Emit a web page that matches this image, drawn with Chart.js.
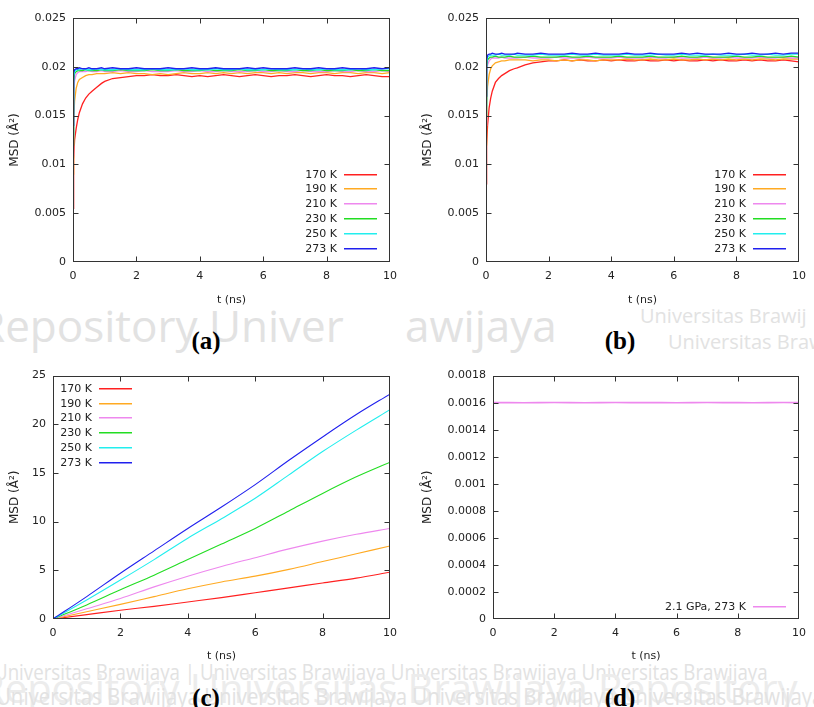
<!DOCTYPE html>
<html>
<head>
<meta charset="utf-8">
<script src="https://cdn.jsdelivr.net/npm/chart.js@4.4.1/dist/chart.umd.min.js"></script>
<style>
  body { margin: 0; background: #fff; }
  #page { position: relative; width: 814px; height: 707px; overflow: hidden; background: #fff; }
  .wm { position: absolute; white-space: nowrap; color: #e2e2e2; font-family: "Open Sans", sans-serif; line-height: 1; }
  canvas { position: absolute; background: #fff; }
  .lbl { position: absolute; transform: translate(-50%, -50%); font-family: "Liberation Serif", serif; font-weight: bold; font-size: 25px; line-height: 1; color: #000; }
</style>
</head>
<body>
<div id="page">
  <!-- watermark behind the panels -->
  <div class="wm" style="left:-22px; top:303px; font-size:44px;">Repository Univer</div>
  <div class="wm" style="left:405px; top:303px; font-size:44px;">awijaya</div>
  <div class="wm" style="left:640px; top:306px; font-size:20px;">Universitas Brawij</div>
  <div class="wm" style="left:668px; top:332px; font-size:20px;">Universitas Brawij</div>
  <div class="wm" style="left:-6px; top:660px; font-size:22px; transform:scaleX(0.85); transform-origin:left;">Universitas Brawijaya | Universitas Brawijaya  Universitas Brawijaya  Universitas Brawijaya</div>
  <div class="wm" style="left:-20px; top:668px; font-size:40px; color:#ececec;">Repository Universitas Brawijaya Repository</div>
  <div class="wm" style="left:-4px; top:684px; font-size:24px; transform:scaleX(0.85); transform-origin:left;">Universitas Brawijaya   Universitas Brawijaya   Universitas Brawijaya   Universitas Brawijaya</div>

  <canvas id="chartA" width="402" height="309" style="left:3px; top:0px;"></canvas>
  <canvas id="chartB" width="400" height="309" style="left:414px; top:0px;"></canvas>
  <canvas id="chartC" width="402" height="301" style="left:3px; top:362px;"></canvas>
  <canvas id="chartD" width="400" height="301" style="left:414px; top:362px;"></canvas>

  <div class="lbl" style="left:206px; top:340px;">(a)</div>
  <div class="lbl" style="left:620px; top:340px;">(b)</div>
  <div class="lbl" style="left:206px; top:697px;">(c)</div>
  <div class="lbl" style="left:620px; top:697px;">(d)</div>
</div>
<script>
// nhãn và màu các đường
const seriesLabels = ['170 K', '190 K', '210 K', '230 K', '250 K', '273 K'];
const seriesColors = ['#ff2020', '#ffaa22', '#ee88ee', '#22dd22', '#22eeee', '#2020ee'];

// trục thời gian (ns)
const timeAB = [0, 0.02, 0.05, 0.1, 0.15, 0.2, 0.3, 0.4, 0.5, 0.6, 0.75, 0.9,
  1, 1.25, 1.5, 1.75, 2, 2.25, 2.5, 2.75, 3, 3.25, 3.5, 3.75, 4,
  4.25, 4.5, 4.75, 5, 5.25, 5.5, 5.75, 6, 6.25, 6.5, 6.75, 7,
  7.25, 7.5, 7.75, 8, 8.25, 8.5, 8.75, 9, 9.25, 9.5, 9.75, 10];
const timeC = [0, 1, 2, 3, 4, 5, 6, 7, 8, 9, 10];
const timeD = [0, 0.5, 1, 1.5, 2, 2.5, 3, 3.5, 4, 4.5, 5, 5.5, 6, 6.5, 7, 7.5, 8, 8.5, 9, 9.5, 10];

// (a)
const msdA170 = [0.0055, 0.0105, 0.0125, 0.0137, 0.0146, 0.0153, 0.0162, 0.0168, 0.0172, 0.0175, 0.0179, 0.0183,
  0.0185, 0.0188, 0.0189, 0.0190, 0.0191, 0.0191, 0.0192, 0.0191, 0.0191, 0.0192, 0.0191, 0.0190, 0.0191,
  0.0190, 0.0191, 0.0192, 0.0191, 0.0190, 0.0191, 0.0192, 0.0191, 0.0190, 0.0191, 0.0191, 0.0192,
  0.0191, 0.0190, 0.0191, 0.0192, 0.0191, 0.0191, 0.0190, 0.0191, 0.0192, 0.0191, 0.0190, 0.0190];
const msdA190 = [0.0090, 0.0145, 0.0165, 0.0178, 0.0184, 0.0187, 0.0189, 0.0191, 0.0192, 0.0192, 0.0193, 0.0193,
  0.0193, 0.0194, 0.0193, 0.0194, 0.0193, 0.0193, 0.0192, 0.0193, 0.0192, 0.0193, 0.0194, 0.0193, 0.0193,
  0.0194, 0.0193, 0.0194, 0.0193, 0.0194, 0.0193, 0.0194, 0.0194, 0.0193, 0.0194, 0.0193, 0.0194,
  0.0194, 0.0193, 0.0194, 0.0194, 0.0193, 0.0194, 0.0194, 0.0193, 0.0194, 0.0194, 0.0193, 0.0194];
const msdA210 = [0.0110, 0.0172, 0.0186, 0.0192, 0.0194, 0.0195, 0.0195, 0.0195, 0.0196, 0.0195, 0.0195, 0.0196,
  0.0195, 0.0195, 0.0196, 0.0195, 0.0195, 0.0196, 0.0195, 0.0195, 0.0195, 0.0196, 0.0195, 0.0195, 0.0196,
  0.0195, 0.0195, 0.0196, 0.0195, 0.0195, 0.0195, 0.0196, 0.0195, 0.0195, 0.0196, 0.0195, 0.0195,
  0.0196, 0.0195, 0.0195, 0.0195, 0.0196, 0.0195, 0.0195, 0.0196, 0.0195, 0.0195, 0.0196, 0.0195];
const msdA230 = [0.0120, 0.0185, 0.0193, 0.0195, 0.0196, 0.0196, 0.0196, 0.0197, 0.0196, 0.0196, 0.0196, 0.0197,
  0.0196, 0.0196, 0.0197, 0.0196, 0.0196, 0.0196, 0.0197, 0.0196, 0.0196, 0.0197, 0.0196, 0.0196, 0.0196,
  0.0197, 0.0196, 0.0196, 0.0196, 0.0197, 0.0196, 0.0196, 0.0197, 0.0196, 0.0196, 0.0196, 0.0197,
  0.0196, 0.0196, 0.0197, 0.0196, 0.0196, 0.0196, 0.0197, 0.0196, 0.0196, 0.0197, 0.0196, 0.0196];
const msdA250 = [0.0130, 0.0190, 0.0195, 0.0197, 0.0197, 0.0197, 0.0198, 0.0197, 0.0197, 0.0197, 0.0198, 0.0197,
  0.0197, 0.0197, 0.0198, 0.0197, 0.0197, 0.0197, 0.0198, 0.0197, 0.0197, 0.0197, 0.0198, 0.0197, 0.0197,
  0.0197, 0.0198, 0.0197, 0.0197, 0.0198, 0.0197, 0.0197, 0.0197, 0.0198, 0.0197, 0.0197, 0.0197,
  0.0198, 0.0197, 0.0197, 0.0198, 0.0197, 0.0197, 0.0197, 0.0198, 0.0197, 0.0197, 0.0198, 0.0198];
const msdA273 = [0.0140, 0.0194, 0.0197, 0.0198, 0.0198, 0.0199, 0.0198, 0.0198, 0.0199, 0.0198, 0.0198, 0.0199,
  0.0198, 0.0199, 0.0198, 0.0198, 0.0199, 0.0198, 0.0198, 0.0198, 0.0199, 0.0198, 0.0198, 0.0199, 0.0198,
  0.0198, 0.0199, 0.0198, 0.0198, 0.0198, 0.0199, 0.0198, 0.0199, 0.0198, 0.0198, 0.0198, 0.0199,
  0.0198, 0.0198, 0.0199, 0.0198, 0.0198, 0.0199, 0.0198, 0.0198, 0.0198, 0.0199, 0.0198, 0.0199];

// (b)
const msdB170 = [0.0080, 0.0120, 0.0140, 0.0158, 0.0168, 0.0175, 0.0184, 0.0188, 0.0191, 0.0193, 0.0196, 0.0198,
  0.0199, 0.0202, 0.0204, 0.0205, 0.0206, 0.0206, 0.0207, 0.0206, 0.0207, 0.0206, 0.0206, 0.0207, 0.0206,
  0.0207, 0.0206, 0.0206, 0.0207, 0.0206, 0.0206, 0.0207, 0.0206, 0.0207, 0.0206, 0.0206, 0.0207,
  0.0206, 0.0207, 0.0206, 0.0206, 0.0207, 0.0206, 0.0207, 0.0206, 0.0206, 0.0207, 0.0206, 0.0205];
const msdB190 = [0.0120, 0.0160, 0.0180, 0.0192, 0.0198, 0.0201, 0.0204, 0.0205, 0.0206, 0.0206, 0.0207, 0.0207,
  0.0207, 0.0207, 0.0206, 0.0207, 0.0207, 0.0206, 0.0207, 0.0206, 0.0207, 0.0207, 0.0206, 0.0207, 0.0207,
  0.0207, 0.0208, 0.0207, 0.0207, 0.0208, 0.0207, 0.0207, 0.0208, 0.0207, 0.0207, 0.0208, 0.0207,
  0.0208, 0.0207, 0.0208, 0.0207, 0.0208, 0.0207, 0.0208, 0.0208, 0.0207, 0.0208, 0.0208, 0.0208];
const msdB210 = [0.0140, 0.0190, 0.0202, 0.0206, 0.0208, 0.0209, 0.0209, 0.0209, 0.0210, 0.0209, 0.0209, 0.0209,
  0.0209, 0.0210, 0.0209, 0.0209, 0.0209, 0.0210, 0.0209, 0.0209, 0.0209, 0.0210, 0.0209, 0.0209, 0.0209,
  0.0210, 0.0209, 0.0209, 0.0209, 0.0210, 0.0209, 0.0209, 0.0210, 0.0209, 0.0209, 0.0209, 0.0210,
  0.0209, 0.0209, 0.0210, 0.0209, 0.0209, 0.0209, 0.0210, 0.0209, 0.0209, 0.0210, 0.0209, 0.0209];
const msdB230 = [0.0150, 0.0200, 0.0207, 0.0209, 0.0210, 0.0210, 0.0211, 0.0210, 0.0210, 0.0210, 0.0211, 0.0210,
  0.0210, 0.0210, 0.0211, 0.0210, 0.0210, 0.0210, 0.0211, 0.0210, 0.0210, 0.0211, 0.0210, 0.0210, 0.0210,
  0.0211, 0.0210, 0.0210, 0.0210, 0.0211, 0.0210, 0.0210, 0.0210, 0.0211, 0.0210, 0.0210, 0.0211,
  0.0210, 0.0210, 0.0210, 0.0211, 0.0210, 0.0210, 0.0211, 0.0210, 0.0210, 0.0210, 0.0211, 0.0210];
const msdB250 = [0.0160, 0.0204, 0.0210, 0.0211, 0.0212, 0.0212, 0.0212, 0.0213, 0.0212, 0.0212, 0.0212, 0.0213,
  0.0212, 0.0212, 0.0212, 0.0213, 0.0212, 0.0212, 0.0212, 0.0213, 0.0212, 0.0212, 0.0213, 0.0212, 0.0212,
  0.0212, 0.0213, 0.0212, 0.0212, 0.0212, 0.0213, 0.0212, 0.0212, 0.0213, 0.0212, 0.0212, 0.0212,
  0.0213, 0.0212, 0.0212, 0.0212, 0.0213, 0.0212, 0.0212, 0.0213, 0.0212, 0.0212, 0.0213, 0.0213];
const msdB273 = [0.0170, 0.0207, 0.0212, 0.0213, 0.0213, 0.0214, 0.0213, 0.0213, 0.0214, 0.0213, 0.0213, 0.0213,
  0.0214, 0.0213, 0.0213, 0.0214, 0.0213, 0.0213, 0.0213, 0.0214, 0.0213, 0.0213, 0.0214, 0.0213, 0.0213,
  0.0213, 0.0214, 0.0213, 0.0213, 0.0214, 0.0213, 0.0213, 0.0213, 0.0214, 0.0213, 0.0214, 0.0213,
  0.0213, 0.0213, 0.0214, 0.0213, 0.0213, 0.0214, 0.0213, 0.0213, 0.0214, 0.0213, 0.0214, 0.0214];

// (c)
const msdC170 = [0, 0.45, 0.9, 1.3, 1.75, 2.2, 2.7, 3.2, 3.7, 4.2, 4.8];
const msdC190 = [0, 0.75, 1.5, 2.3, 3.1, 3.8, 4.4, 5.1, 5.9, 6.7, 7.5];
const msdC210 = [0, 1.05, 2.1, 3.3, 4.4, 5.4, 6.3, 7.2, 8.0, 8.7, 9.3];
const msdC230 = [0, 1.45, 3.0, 4.5, 6.1, 7.7, 9.3, 11.1, 12.9, 14.6, 16.1];
const msdC250 = [0, 1.95, 4.0, 6.1, 8.3, 10.3, 12.4, 14.8, 17.2, 19.4, 21.5];
const msdC273 = [0, 2.3, 4.7, 7.0, 9.3, 11.5, 13.8, 16.3, 18.7, 21.0, 23.1];

// (d)
const labelD = '2.1 GPa, 273 K';
const colorD = '#ee88ee';
const msdD = [0.001600, 0.001601, 0.001599, 0.001600, 0.001601, 0.001600, 0.001599, 0.001600, 0.001601, 0.001600, 0.001600,
  0.001601, 0.001599, 0.001600, 0.001601, 0.001600, 0.001600, 0.001599, 0.001600, 0.001601, 0.001600];

// vạch chia trục
const xTicks = [0, 2, 4, 6, 8, 10];
const yTicksAB = [0, 0.005, 0.01, 0.015, 0.02, 0.025];
const yTicksC = [0, 5, 10, 15, 20, 25];
const yTicksD = [0, 0.0002, 0.0004, 0.0006, 0.0008, 0.001, 0.0012, 0.0014, 0.0016, 0.0018];

const FONT = { family: "'DejaVu Sans', sans-serif", size: 11 };
const YTITLE_FONT = { family: "'DejaVu Sans', sans-serif", size: 12 };
const TEXT = '#222';

// khung và vạch chia hướng vào trong như gnuplot
const gnuFrame = {
    id: 'gnuFrame',
    afterDatasetsDraw(chart) {
        const { ctx, chartArea: a, scales: { x, y } } = chart;
        const L = Math.round(a.left) + 0.5, R = Math.round(a.right) - 0.5;
        const T = Math.round(a.top) + 0.5, B = Math.round(a.bottom) - 0.5;
        ctx.save();
        ctx.strokeStyle = '#333';
        ctx.lineWidth = 1;
        ctx.beginPath();
        x.ticks.forEach(t => {
            const px = Math.round(x.getPixelForValue(t.value)) + 0.5;
            if (px <= L + 1 || px >= R - 1) return;
            ctx.moveTo(px, B); ctx.lineTo(px, B - 5);
            ctx.moveTo(px, T); ctx.lineTo(px, T + 5);
        });
        y.ticks.forEach(t => {
            const py = Math.round(y.getPixelForValue(t.value)) + 0.5;
            if (py <= T + 1 || py >= B - 1) return;
            ctx.moveTo(L, py); ctx.lineTo(L + 5, py);
            ctx.moveTo(R, py); ctx.lineTo(R - 5, py);
        });
        ctx.stroke();
        ctx.strokeRect(L, T, R - L, B - T);
        ctx.restore();
    }
};

// chú thích kiểu gnuplot: chữ căn phải, đoạn mẫu bên phải
const gnuKey = {
    id: 'gnuKey',
    afterDraw(chart, args, opts) {
        const { ctx, chartArea: a } = chart;
        const sets = chart.data.datasets;
        const rowH = 14.9, lineLen = 33, gap = 7;
        let lineEnd, y0;
        if (opts.corner === 'tl') {
            lineEnd = a.left + opts.dx;
            y0 = a.top + opts.dy;
        } else {
            lineEnd = a.right - opts.dx;
            y0 = a.bottom - opts.dy - (sets.length - 1) * rowH;
        }
        ctx.save();
        ctx.font = FONT.size + 'px ' + FONT.family;
        ctx.textAlign = 'right';
        ctx.textBaseline = 'middle';
        for (let i = 0; i < sets.length; i++) {
            const yy = Math.round(y0 + i * rowH);
            ctx.fillStyle = TEXT;
            ctx.fillText(sets[i].label, lineEnd - lineLen - gap, yy);
            ctx.fillStyle = opts.colors[i];
            ctx.fillRect(lineEnd - lineLen, yy - 1, lineLen, 1.5);
        }
        ctx.restore();
    }
};

function buildSets(times, seriesList, labels, colors, width, smooth) {
    return seriesList.map((vals, i) => ({
        label: labels[i],
        data: times.map((t, k) => ({ x: t, y: vals[k] })),
        borderColor: colors[i],
        borderWidth: width,
        pointRadius: 0,
        fill: false,
        cubicInterpolationMode: smooth ? 'monotone' : 'default',
        tension: 0,
        order: seriesList.length - i
    }));
}

function fmt(v) {
    return String(+Number(v).toFixed(5));
}

function makeChart(id, p) {
    const ctx = document.getElementById(id).getContext('2d');
    return new Chart(ctx, {
        type: 'line',
        data: { datasets: p.datasets },
        options: {
            responsive: false,
            animation: false,
            devicePixelRatio: 1,
            layout: { padding: { left: 0, top: p.padTop, right: p.padRight, bottom: 0 } },
            plugins: {
                legend: { display: false },
                tooltip: { enabled: false },
                gnuKey: p.key
            },
            scales: {
                x: {
                    type: 'linear',
                    min: 0,
                    max: 10,
                    afterBuildTicks: s => { s.ticks = xTicks.map(v => ({ value: v })); },
                    afterFit: s => { s.height = p.xHeight; },
                    grid: { display: false, drawTicks: false },
                    border: { display: false },
                    ticks: { font: FONT, color: TEXT, padding: 8, maxRotation: 0, callback: v => fmt(v) },
                    title: { display: true, text: 't (ns)', font: FONT, color: TEXT, padding: { top: 0, bottom: p.xTitlePad } }
                },
                y: {
                    type: 'linear',
                    min: p.yTicks[0],
                    max: p.yTicks[p.yTicks.length - 1],
                    afterBuildTicks: s => { s.ticks = p.yTicks.map(v => ({ value: v })); },
                    afterFit: s => { s.width = p.yWidth; },
                    grid: { display: false, drawTicks: false },
                    border: { display: false },
                    ticks: { font: FONT, color: TEXT, padding: 7, callback: v => fmt(v) },
                    title: { display: true, text: 'MSD (Å²)', font: YTITLE_FONT, color: TEXT, padding: { top: p.yTitlePad, bottom: 0 } }
                }
            }
        },
        plugins: [gnuFrame, gnuKey]
    });
}

makeChart('chartA', {
    datasets: buildSets(timeAB, [msdA170, msdA190, msdA210, msdA230, msdA250, msdA273], seriesLabels, seriesColors, 1.3, false),
    yTicks: yTicksAB, padTop: 18, padRight: 14, yWidth: 70, xHeight: 47, xTitlePad: 2, yTitlePad: 5,
    key: { corner: 'br', dx: 13, dy: 13, colors: seriesColors }
});

makeChart('chartB', {
    datasets: buildSets(timeAB, [msdB170, msdB190, msdB210, msdB230, msdB250, msdB273], seriesLabels, seriesColors, 1.3, false),
    yTicks: yTicksAB, padTop: 18, padRight: 9, yWidth: 72, xHeight: 47, xTitlePad: 2, yTitlePad: 7,
    key: { corner: 'br', dx: 13, dy: 13, colors: seriesColors }
});

makeChart('chartC', {
    datasets: buildSets(timeC, [msdC170, msdC190, msdC210, msdC230, msdC250, msdC273], seriesLabels, seriesColors, 1.1, true),
    yTicks: yTicksC, padTop: 13, padRight: 14, yWidth: 50, xHeight: 44, xTitlePad: 0, yTitlePad: 5,
    key: { corner: 'tl', dx: 79, dy: 13, colors: seriesColors }
});

makeChart('chartD', {
    datasets: buildSets(timeD, [msdD], [labelD], [colorD], 1.6, false),
    yTicks: yTicksD, padTop: 13, padRight: 9, yWidth: 79, xHeight: 44, xTitlePad: 0, yTitlePad: 7,
    key: { corner: 'br', dx: 13, dy: 12, colors: [colorD] }
});
</script>
</body>
</html>
